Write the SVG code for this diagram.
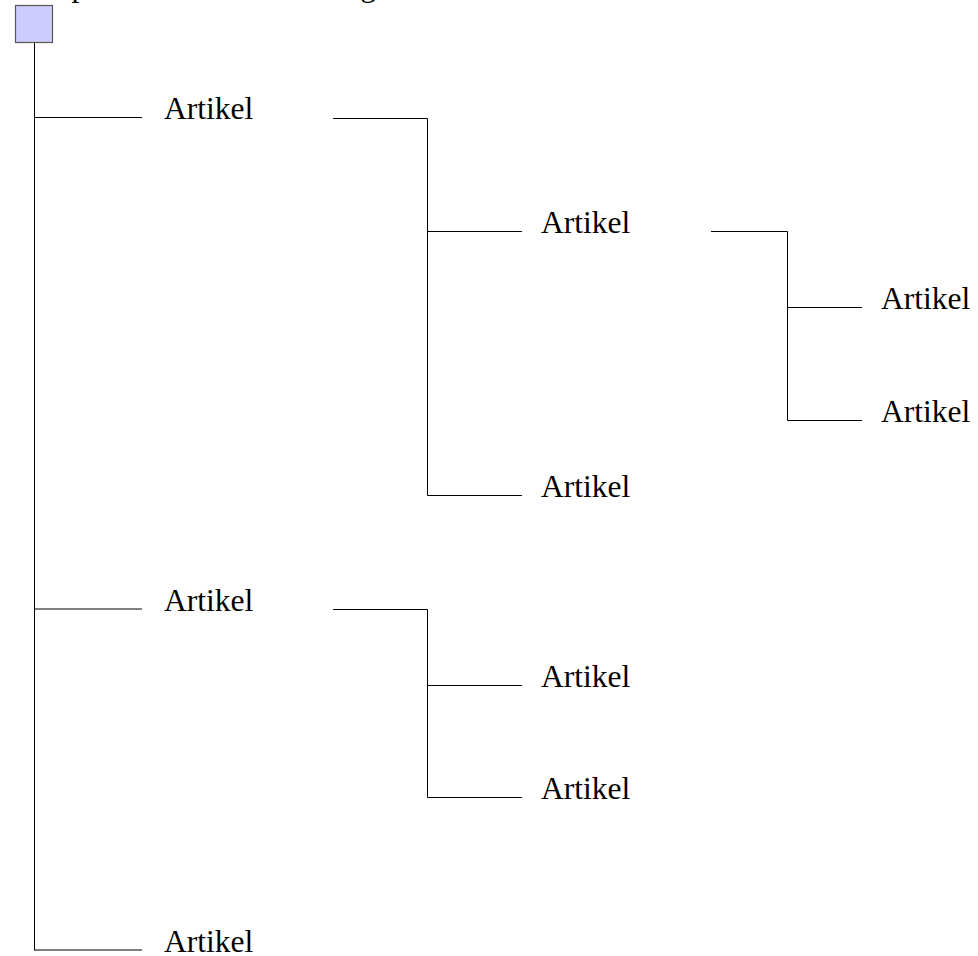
<svg xmlns="http://www.w3.org/2000/svg" width="978" height="956" viewBox="0 0 978 956">
  <style>
    .lbl { font-family: "Liberation Serif", "Times New Roman", "DejaVu Serif", serif; font-size: 31.5px; fill: #000; }
    .wire { stroke: #000; stroke-width: 1; fill: none; }
    .root { fill: #ccccff; stroke: #555; stroke-width: 1.2; }
  </style>
  <rect width="978" height="956" fill="#fff"/>

  <!-- heading above the root, mostly outside the canvas -->
  <text class="lbl" x="19" y="-4">Hauptartikel mit Gliederung</text>

  <!-- connectors -->
  <g id="connectors">
    <!-- trunk from root -->
    <path class="wire" d="M34.5 43 V950.5"/>
    <path class="wire" d="M34.5 117.5 H142"/>
    <path class="wire" d="M34.5 609 H142"/>
    <path class="wire" d="M34.5 950 H142"/>
    <!-- first article's children -->
    <path class="wire" d="M333 118.5 H427.5 V495.5 H522"/>
    <path class="wire" d="M427.5 231.5 H522"/>
    <!-- grandchildren -->
    <path class="wire" d="M711 231.5 H787.5 V420.5 H862"/>
    <path class="wire" d="M787.5 307.5 H862"/>
    <!-- second article's children -->
    <path class="wire" d="M333 609.5 H427.5 V797.5 H522"/>
    <path class="wire" d="M427.5 685.5 H522"/>
  </g>

  <g id="root"><rect class="root" x="15.5" y="5.5" width="37" height="37"/></g>

  <g id="a1"><text class="lbl" x="164" y="119">Artikel</text></g>
  <g id="a1-1"><text class="lbl" x="541" y="233">Artikel</text></g>
  <g id="a1-1-1"><text class="lbl" x="881" y="309">Artikel</text></g>
  <g id="a1-1-2"><text class="lbl" x="881" y="422">Artikel</text></g>
  <g id="a1-2"><text class="lbl" x="541" y="497">Artikel</text></g>
  <g id="a2"><text class="lbl" x="164" y="611">Artikel</text></g>
  <g id="a2-1"><text class="lbl" x="541" y="687">Artikel</text></g>
  <g id="a2-2"><text class="lbl" x="541" y="799">Artikel</text></g>
  <g id="a3"><text class="lbl" x="164" y="952">Artikel</text></g>
</svg>
